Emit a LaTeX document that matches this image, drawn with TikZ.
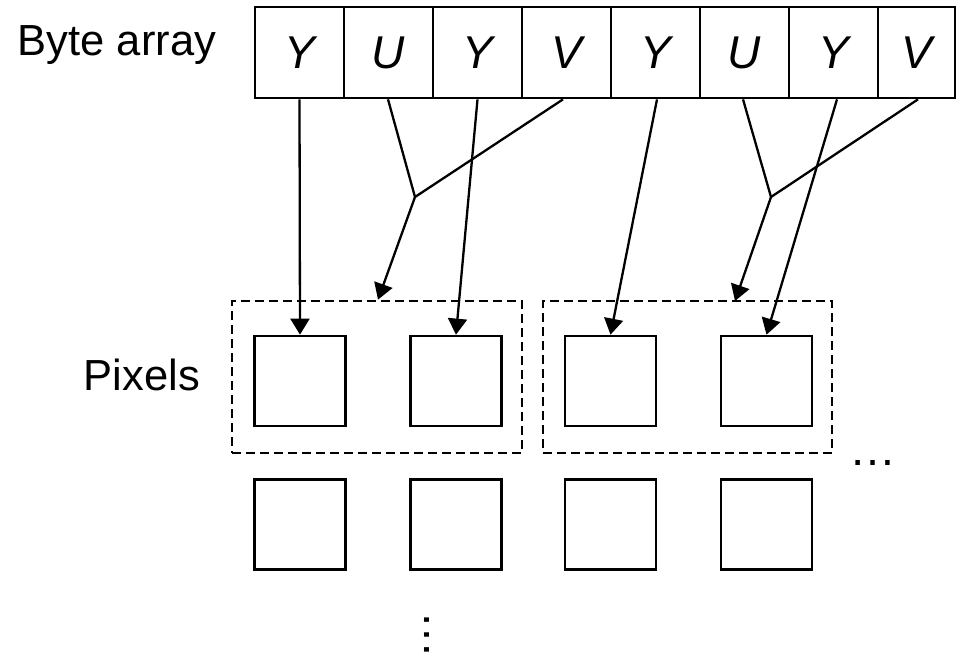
\documentclass[tikz,border=0pt]{standalone}
\usepackage{fontspec}
\setmainfont{Liberation Sans}
\usetikzlibrary{arrows.meta}
\begin{document}
\begin{tikzpicture}[x=1pt,y=-1pt,
  cell/.style={draw,line width=2.7pt,minimum height=91pt,inner sep=0pt,font=\fontsize{46}{50}\selectfont\itshape},
  pix/.style={draw,line width=2.7pt,minimum width=91pt,minimum height=90pt,inner sep=0pt},
  grp/.style={draw,line width=2.7pt,dash pattern=on 9pt off 5pt,inner sep=0pt},
  lbl/.style={font=\fontsize{43.5}{48}\selectfont,inner sep=0pt},
  link/.style={line width=2.3pt},
  arr/.style={line width=2.3pt,-{Triangle[length=16pt,width=19pt]}},
  dots/.style={font=\fontsize{47}{50}\selectfont,inner sep=0pt}]
\useasboundingbox (0,0) rectangle (957,654);
% byte array
\node[cell,minimum width=89pt] (c1) at (299.5,52.5) {Y};
\node[cell,minimum width=89pt] (c2) at (388.5,52.5) {U};
\node[cell,minimum width=89pt] (c3) at (477.5,52.5) {Y};
\node[cell,minimum width=89pt] (c4) at (566.5,52.5) {V};
\node[cell,minimum width=89pt] (c5) at (655.5,52.5) {Y};
\node[cell,minimum width=89pt] (c6) at (744.5,52.5) {U};
\node[cell,minimum width=89pt] (c7) at (833.5,52.5) {Y};
\node[cell,minimum width=77pt] (c8) at (916.5,52.5) {V};
\node[lbl,anchor=base] (lb) at (117,55) {Byte array};
% pixels
\node[pix] (p1) at (300,381) {};
\node[pix] (p2) at (456,381) {};
\node[pix] (p3) at (610.5,381) {};
\node[pix] (p4) at (766.5,381) {};
\node[pix] (q1) at (300,524.5) {};
\node[pix] (q2) at (456,524.5) {};
\node[pix] (q3) at (610.5,524.5) {};
\node[pix] (q4) at (766.5,524.5) {};
\node[grp,minimum width=290pt,minimum height=152pt] (g1) at (377,377) {};
\node[grp,minimum width=289pt,minimum height=152pt] (g2) at (687.5,377) {};
\node[lbl,anchor=base east] (lp) at (200,390) {Pixels};
\node[dots,anchor=base] (hd) at (873,465) {…};
\node[dots,rotate=90] (vd) at (427,635) {…};
% junctions
\coordinate (j1) at (415,197);
\coordinate (j2) at (771,197);
\coordinate (t2) at (735,301);
% connectors
\draw[arr] (c1.south) -- (p1.north);
\draw[arr] (c3.south) -- (p2.north);
\draw[link] ([xshift=-0.5pt]c2.south) -- (j1);
\draw[link] ([xshift=-3.5pt]c4.south) -- (j1);
\draw[arr] (j1) -- ([xshift=1pt]g1.north);
\draw[arr] ([xshift=1.5pt]c5.south) -- (p3.north);
\draw[arr] ([xshift=3.5pt]c7.south) -- (p4.north);
\draw[link] ([xshift=-1.5pt]c6.south) -- (j2);
\draw[link] ([xshift=1.5pt]c8.south) -- (j2);
\draw[arr] (j2) -- (t2);
\end{tikzpicture}
\end{document}
